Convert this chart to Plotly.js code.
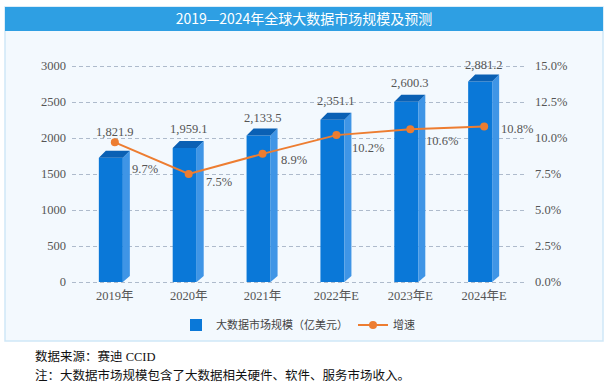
<!DOCTYPE html>
<html><head><meta charset="utf-8">
<script src="https://cdn.plot.ly/plotly-3.0.1.min.js"></script>
<style>html,body{margin:0;padding:0;background:#fff}#chart{width:612px;height:384px}</style>
</head><body><div id="chart"></div>
<script>
// ---- data ----
const categories = ['2019年','2020年','2021年','2022年E','2023年E','2024年E'];
const marketSize = [1821.9, 1959.1, 2133.5, 2351.1, 2600.3, 2881.2];
const growthRate = [9.7, 7.5, 8.9, 10.2, 10.6, 10.8];
const seriesNames = ['大数据市场规模（亿美元）', '增速'];
const chartTitle = '2019—2024年全球大数据市场规模及预测';
const notes = ['数据来源：赛迪 CCID', '注：大数据市场规模包含了大数据相关硬件、软件、服务市场收入。'];

// ---- layout geometry (pixels) ----
const L = 72, R = 527;          // plot left/right
const Y0 = 282, Y1 = 66;        // pixel rows of value 0 and of the top tick
const PAD = 2;                  // extra px so the edge gridlines are drawn
const T = Y1 - PAD, B = Y0 + PAD;
const xMin = -0.58, xMax = 5.58, yTop = 3000, y2Top = 15;
const ux = (xMax - xMin) / (R - L);
const uy = yTop / (Y0 - Y1);
const uy2 = y2Top / (Y0 - Y1);
const px = p => (p - L) / (R - L);
const py = p => (B - p) / (B - T);
const valueLabelLift = [19, 12, 10, 12, 12, 10];
const pctLabelShift = [[30, -27], [30, -8], [31, -6], [32, -13], [32, -12], [33, -3]];

const idx = categories.map((_, i) => i);

const frontFace = {
  type: 'bar', name: seriesNames[0],
  x: idx.map(i => i - 4 * ux),
  y: marketSize.map(v => v - 7 * uy),
  width: 24 * ux,
  marker: {color: '#0a78d8', line: {width: 0}},
  hoverinfo: 'skip'
};
const sx = [], sy = [], tx = [], ty = [];
idx.forEach(i => {
  const v = marketSize[i];
  sx.push(i + 8 * ux, i + 15 * ux, i + 15 * ux, i + 8 * ux, i + 8 * ux, null);
  sy.push(0, 6 * uy, v, v - 7 * uy, 0, null);
  tx.push(i - 16 * ux, i - 9 * ux, i + 15 * ux, i + 8 * ux, i - 16 * ux, null);
  ty.push(v - 7 * uy, v, v, v - 7 * uy, v - 7 * uy, null);
});
const sideFace = {type: 'scatter', mode: 'lines', x: sx, y: sy, fill: 'toself', fillcolor: '#3f95e6',
  line: {width: 0, color: 'rgba(0,0,0,0)'}, showlegend: false, hoverinfo: 'skip'};
const topFace = {type: 'scatter', mode: 'lines', x: tx, y: ty, fill: 'toself', fillcolor: '#0a60b4',
  line: {width: 0, color: 'rgba(0,0,0,0)'}, showlegend: false, hoverinfo: 'skip'};
const growthLine = {
  type: 'scatter', mode: 'lines+markers', name: seriesNames[1],
  x: idx, y: growthRate, yaxis: 'y2',
  line: {color: '#ed7d31', width: 2}, marker: {color: '#ed7d31', size: 8}
};

const serif = 'Liberation Serif, Noto Sans CJK SC, serif';
const annotations = [];
idx.forEach(i => {
  annotations.push({x: i, y: marketSize[i], xref: 'x', yref: 'y', yshift: valueLabelLift[i], yanchor: 'middle',
    text: marketSize[i].toLocaleString('en-US', {minimumFractionDigits: 1, maximumFractionDigits: 1}),
    showarrow: false, font: {family: serif, size: 12.5, color: '#555'}});
  annotations.push({x: i, y: growthRate[i], xref: 'x', yref: 'y2', xshift: pctLabelShift[i][0], yshift: pctLabelShift[i][1],
    yanchor: 'middle', text: growthRate[i].toFixed(1) + '%',
    showarrow: false, font: {family: serif, size: 12.5, color: '#555'}});
});
notes.forEach((t, k) => {
  annotations.push({xref: 'paper', yref: 'paper', x: px(33), y: py(k === 0 ? 356 : 375), xanchor: 'left', yanchor: 'middle',
    text: t, showarrow: false, font: {family: serif, size: 12.5, color: '#111'}});
});

const layout = {
  width: 612, height: 384,
  margin: {l: L, r: 612 - R, t: T, b: 384 - B, pad: 0},
  paper_bgcolor: '#ffffff', plot_bgcolor: 'rgba(0,0,0,0)',
  title: {text: chartTitle, font: {family: 'Noto Sans CJK SC', size: 14, color: '#ffffff'},
    xref: 'container', yref: 'container', x: 304 / 612, y: 1 - 19 / 384, xanchor: 'center', yanchor: 'middle'},
  showlegend: true,
  legend: {orientation: 'h', x: px(298), y: py(325), xanchor: 'center', yanchor: 'middle',
    font: {family: 'Noto Sans CJK SC', size: 11, color: '#444'}, bgcolor: 'rgba(0,0,0,0)', traceorder: 'normal'},
  xaxis: {range: [xMin, xMax], tickmode: 'array', tickvals: idx, ticktext: categories,
    showgrid: false, zeroline: false, showline: false, ticks: '', fixedrange: true, ticklabelstandoff: 2,
    tickfont: {family: serif, size: 12.5, color: '#555'}},
  yaxis: {range: [-PAD * uy, yTop + PAD * uy], dtick: 500, tick0: 0, showgrid: true,
    gridcolor: '#aebbcc', griddash: '4px,3px', gridwidth: 1,
    zeroline: false, showline: false, ticks: '', fixedrange: true, ticklabelstandoff: 5,
    tickfont: {family: serif, size: 12.5, color: '#555'}},
  yaxis2: {range: [-PAD * uy2, y2Top + PAD * uy2], dtick: 2.5, tick0: 0, overlaying: 'y', side: 'right',
    tickformat: '.1f', ticksuffix: '%',
    showgrid: false, zeroline: false, showline: false, ticks: '', fixedrange: true, ticklabelstandoff: 7,
    tickfont: {family: serif, size: 12.5, color: '#555'}},
  shapes: [
    {type: 'rect', xref: 'paper', yref: 'paper', x0: px(5), x1: px(603), y0: py(341), y1: py(7),
      fillcolor: '#f3f9fe', line: {color: '#cfe7f7', width: 1.5}, layer: 'below'},
    {type: 'rect', xref: 'paper', yref: 'paper', x0: px(5), x1: px(603), y0: py(31), y1: py(7),
      fillcolor: '#2e9fe3', line: {width: 0}, layer: 'below'}
  ],
  annotations: annotations,
  separators: '.,'
};

Plotly.newPlot('chart', [frontFace, sideFace, topFace, growthLine], layout, {displayModeBar: false, staticPlot: true});
</script></body></html>
